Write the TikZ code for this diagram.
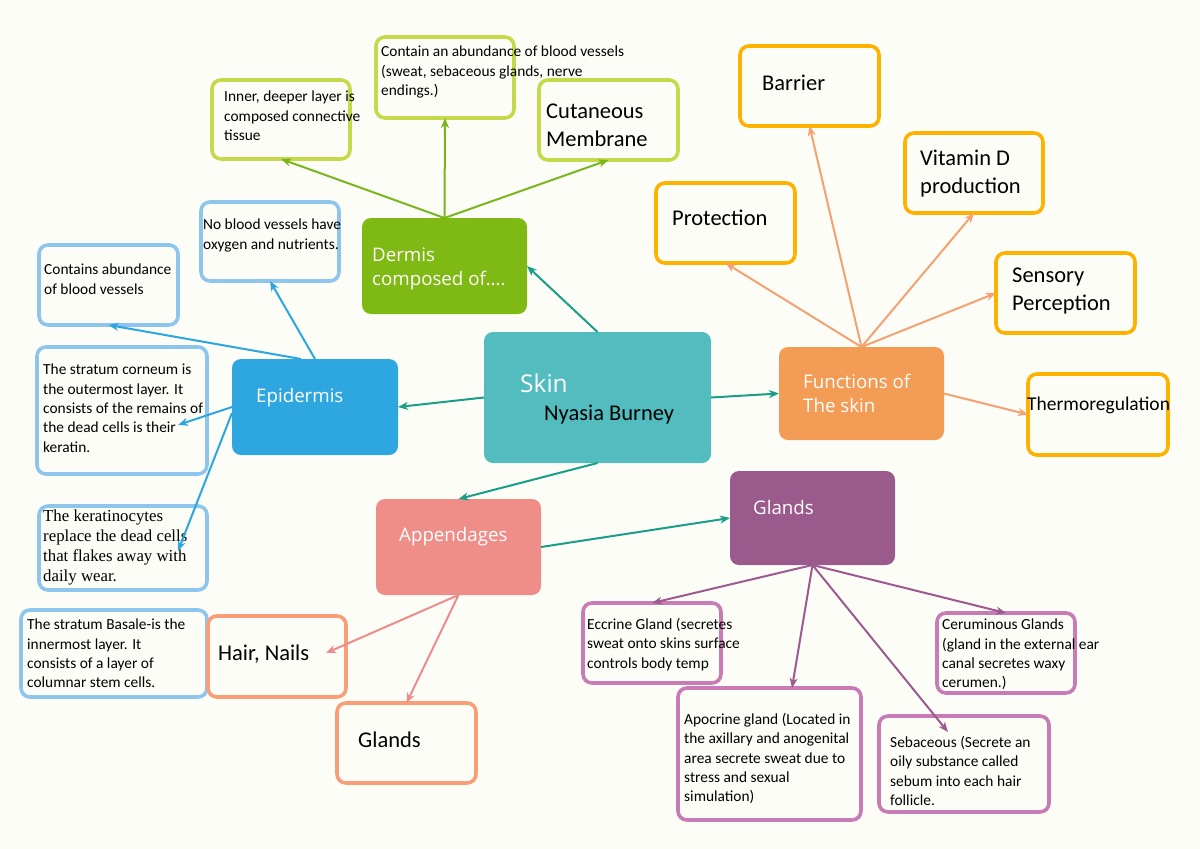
\documentclass[tikz,border=0pt]{standalone}
\usepackage{fontspec}
\setmainfont{Carlito}
\newfontfamily\osans{Open Sans}
\newfontfamily\tnr{Liberation Serif}
\usetikzlibrary{arrows.meta,calc}
\definecolor{bg}{RGB}{253,253,248}
\definecolor{cSkin}{RGB}{82,188,191}
\definecolor{cDerm}{RGB}{127,185,19}
\definecolor{cEpi}{RGB}{46,167,224}
\definecolor{cFunc}{RGB}{243,156,85}
\definecolor{cApp}{RGB}{239,142,137}
\definecolor{cGl}{RGB}{155,90,140}
\definecolor{oLime}{RGB}{197,217,75}
\definecolor{oBlue}{RGB}{142,197,236}
\definecolor{oGold}{RGB}{255,177,0}
\definecolor{oSalm}{RGB}{250,158,120}
\definecolor{oPurp}{RGB}{200,123,181}
\definecolor{aTeal}{RGB}{26,158,135}
\definecolor{aGreen}{RGB}{122,181,32}
\definecolor{aBlue}{RGB}{44,166,224}
\definecolor{aOrange}{RGB}{244,162,114}
\definecolor{aPink}{RGB}{238,140,140}
\definecolor{aPurp}{RGB}{156,90,143}
\begin{document}
\begin{tikzpicture}[x=1pt,y=-1pt,
 box/.style={anchor=north west, inner sep=0pt, outer sep=0pt, rounded corners=9pt},
 fbox/.style={box, fill=#1},
 obox/.style={box, draw=#1, line width=3.6pt},
 txt/.style={anchor=north west, inner sep=0pt, align=left, yshift=-2.5pt, font=\fontsize{15.4}{19.3}\selectfont},
 big/.style={anchor=north west, inner sep=0pt, align=left, yshift=-2.5pt, font=\fontsize{22.5}{27.5}\selectfont},
 head/.style={anchor=north west, inner sep=0pt, align=left, yshift=-2.5pt, text=white, font=\osans\fontsize{18.7}{24}\selectfont},
 arr/.style={draw=#1, line width=2pt, -{Stealth[length=10pt,width=8pt,inset=3pt]}},
]
\fill[bg] (0,0) rectangle (1200,849);
\useasboundingbox (0,0) rectangle (1200,849);

% filled main nodes
\node[fbox=cSkin, minimum width=227pt, minimum height=131pt] (skin) at (484,332) {};
\node[fbox=cDerm, minimum width=165pt, minimum height=96pt] (dermis) at (362,218) {};
\node[fbox=cEpi, minimum width=166pt, minimum height=96pt] (epi) at (232,359) {};
\node[fbox=cFunc, minimum width=165pt, minimum height=93pt] (func) at (779,347) {};
\node[fbox=cApp, minimum width=165pt, minimum height=96pt] (app) at (376,499) {};
\node[fbox=cGl, minimum width=165pt, minimum height=94pt] (glands) at (730,471) {};

% outline boxes
\node[obox=oLime, minimum width=138pt, minimum height=79pt] (inner) at (212,80) {};
\node[obox=oLime, minimum width=138pt, minimum height=81pt] (contain) at (376,37) {};
\node[obox=oLime, minimum width=139pt, minimum height=80pt] (cut) at (539,80) {};
\node[obox=oBlue, minimum width=138pt, minimum height=79pt] (noblood) at (201,202) {};
\node[obox=oBlue, minimum width=139pt, minimum height=80pt] (contains) at (39,245) {};
\node[obox=oBlue, minimum width=170pt, minimum height=127pt] (corneum) at (37,347) {};
\node[obox=oBlue, minimum width=168pt, minimum height=84pt] (kerat) at (39,506) {};
\node[obox=oBlue, minimum width=186pt, minimum height=87pt] (basale) at (21,610) {};
\node[obox=oSalm, minimum width=138pt, minimum height=81pt] (hair) at (208,616) {};
\node[obox=oSalm, minimum width=139pt, minimum height=80pt] (aglands) at (337,703) {};
\node[obox=oGold, minimum width=139pt, minimum height=80pt] (barrier) at (740,46) {};
\node[obox=oGold, minimum width=139pt, minimum height=80pt] (prot) at (656,183) {};
\node[obox=oGold, minimum width=138pt, minimum height=80pt] (vit) at (905,133) {};
\node[obox=oGold, minimum width=139pt, minimum height=80pt] (sens) at (996,253) {};
\node[obox=oGold, minimum width=140pt, minimum height=81pt] (thermo) at (1028,374) {};
\node[obox=oPurp, minimum width=138pt, minimum height=80pt] (ecc) at (583,603) {};
\node[obox=oPurp, minimum width=183pt, minimum height=132pt] (apo) at (678,688) {};
\node[obox=oPurp, minimum width=170pt, minimum height=96pt] (seb) at (879,716) {};
\node[obox=oPurp, minimum width=138pt, minimum height=80pt] (cer) at (937,613) {};

% texts
\node[head, font=\osans\fontsize{24.5}{28}\selectfont] (skin-t) at (520,371) {Skin};
\node[big] (name-t) at (544,402.5) {Nyasia Burney};
\node[head] (dermis-t) at (372,245) {Dermis\\composed of\dots.};
\node[head] (epi-t) at (256,386) {Epidermis};
\node[head] (func-t) at (803,371) {Functions of\\The skin};
\node[head] (app-t) at (399,525) {Appendages};
\node[head] (glands-t) at (753,497.5) {Glands};

\node[txt] (inner-t) at (224,88.5) {Inner, deeper layer is\\composed connective\\tissue};
\node[txt] (contain-t) at (381,43.5) {Contain an abundance of blood vessels\\(sweat, sebaceous glands, nerve\\endings.)};
\node[big] (cut-t) at (546,101.5) {Cutaneous\\Membrane};
\node[txt] (noblood-t) at (203,216.5) {No blood vessels have\\oxygen and nutrients.};
\node[txt] (contains-t) at (44,261.5) {Contains abundance\\of blood vessels};
\node[txt] (corneum-t) at (43,361.5) {The stratum corneum is\\the outermost layer. It\\consists of the remains of\\the dead cells is their\\keratin.};
\node[anchor=north west, inner sep=0pt, align=left, yshift=-2pt, font=\tnr\fontsize{16.8}{20}\selectfont] (kerat-t) at (43,508) {The keratinocytes\\replace the dead cells\\that flakes away with\\daily wear.};
\node[txt] (basale-t) at (27,616.5) {The stratum Basale-is the\\innermost layer. It\\consists of a layer of\\columnar stem cells.};
\node[big] (hair-t) at (218,642.5) {Hair, Nails};
\node[big] (aglands-t) at (358,729.5) {Glands};
\node[big] (barrier-t) at (762,72.5) {Barrier};
\node[big] (prot-t) at (672,207.5) {Protection};
\node[big] (vit-t) at (920,147.5) {Vitamin D\\production};
\node[big] (sens-t) at (1012,265.5) {Sensory\\Perception};
\node[big, font=\fontsize{19.5}{24}\selectfont] (thermo-t) at (1027,394.5) {Thermoregulation};
\node[txt] (ecc-t) at (587,615.5) {Eccrine Gland (secretes\\sweat onto skins surface\\controls body temp};
\node[txt] (apo-t) at (684,710.5) {Apocrine gland (Located in\\the axillary and anogenital\\area secrete sweat due to\\stress and sexual\\simulation)};
\node[txt] (seb-t) at (890,733.5) {Sebaceous (Secrete an\\oily substance called\\sebum into each hair\\follicle.};
\node[txt] (cer-t) at (942,616.5) {Ceruminous Glands\\(gland in the external ear\\canal secretes waxy\\cerumen.)};

% free ends
\coordinate (corn-tip) at (178,425);
\coordinate (ker-tip) at (178,551);
\coordinate (hair-tip) at (326,653);
\coordinate (seb-tip) at (948,732);
\coordinate (apo-tip) at (792,688);

% connectors
\draw[arr=aTeal] (skin.north) -- (dermis.east);
\draw[arr=aTeal] (skin.west) -- (epi.east);
\draw[arr=aTeal] (skin.east) -- (func.west);
\draw[arr=aTeal] (skin.south) -- (app.north);
\draw[arr=aTeal] (app.east) -- (glands.west);

\draw[arr=aGreen] (dermis.north) -- (inner.south);
\draw[arr=aGreen] (dermis.north) -- (contain.south);
\draw[arr=aGreen] (dermis.north) -- (cut.south);

\draw[arr=aBlue] (epi.north) -- (noblood.south);
\draw[arr=aBlue] ($(epi.north)+(-14,0)$) -- (contains.south);
\draw[arr=aBlue] (epi.west) -- (corn-tip);
\draw[arr=aBlue] ($(epi.west)+(0,6)$) -- (ker-tip);

\draw[arr=aOrange] (func.north) -- (prot.south);
\draw[arr=aOrange] (func.north) -- (barrier.south);
\draw[arr=aOrange] (func.north) -- (vit.south);
\draw[arr=aOrange] (func.north) -- (sens.west);
\draw[arr=aOrange] (func.east) -- (thermo.west);

\draw[arr=aPink] (app.south) -- (hair-tip);
\draw[arr=aPink] (app.south) -- (aglands.north);

\draw[arr=aPurp] (glands.south) -- (ecc.north);
\draw[arr=aPurp] (glands.south) -- (apo-tip);
\draw[arr=aPurp] (glands.south) -- (seb-tip);
\draw[arr=aPurp] (glands.south) -- (cer.north);
\end{tikzpicture}
\end{document}
